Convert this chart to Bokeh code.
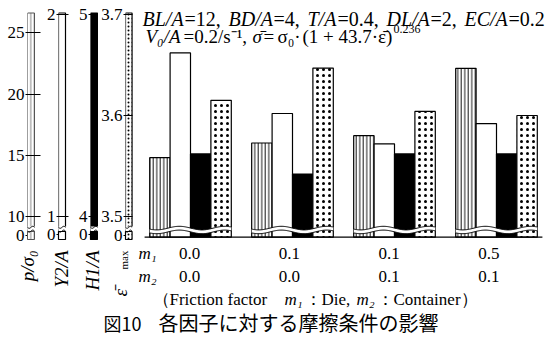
import numpy as np
from bokeh.plotting import figure
from bokeh.models import Range1d, LinearAxis, FixedTicker
from bokeh.layouts import row, column
from bokeh.core.properties import value
from bokeh.embed import file_html
from bokeh.resources import INLINE

# ---------------- data ----------------
m1_labels = ["0.0", "0.1", "0.1", "0.5"]          # die friction factor
m2_labels = ["0.0", "0.0", "0.1", "0.1"]          # container friction factor
p_sigma0 = [14.8, 16.0, 16.6, 22.1]               # p/sigma0
y2_over_a = [1.81, 1.51, 1.36, 1.46]              # Y2/A
h1_over_a = [4.31, 4.21, 4.31, 4.31]              # H1/A
eps_max = [3.615, 3.647, 3.604, 3.600]            # eps_bar max

p_ticks = [10, 15, 20, 25]
p_tick_labels = ["10", "15", "20", "25"]
y2_ticks = [1, 2]
y2_tick_labels = ["1", "2"]
h1_ticks = [4, 5]
h1_tick_labels = ["4", "5"]
eps_ticks = [3.5, 3.6, 3.7]
eps_tick_labels = ["3.5", "3.6", "3.7"]

header1 = [("BL/A", True), ("=12,", False), ("BD/A", True), ("=4,", False),
           ("T/A", True), ("=0.4,", False), ("DL/A", True), ("=2,", False),
           ("EC/A", True), ("=0.2", False)]
header2 = [("V\u2080/A", True), ("=0.2/s\u207b\u00b9,", False), ("\u03c3\u0304", True),
           ("=", False), ("\u03c3\u2080\u00b7", False), ("(1 + 43.7\u00b7\u03b5\u0304)", False)]
header2_exp = "0.236"
friction_parts = [("\uff08Friction factor", False), ("m\u2081", True), ("\uff1aDie,", False),
                  ("m\u2082", True), ("\uff1aContainer\uff09", False)]
caption_fig = "\u56f310"
caption_text = "\u5404\u56e0\u5b50\u306b\u5bfe\u3059\u308b\u6469\u64e6\u6761\u4ef6\u306e\u5f71\u97ff"

# ---------------- layout helpers ----------------
W, H = 549, 337
TOP_H = 244
BOT_H = H - TOP_H
SERIF = value("Liberation Serif")

SPEC_P = (10, 216.0, 25, 32.3)
SPEC_Y2 = (1, 216.0, 2, 14.0)
SPEC_H1 = (4, 216.0, 5, 14.0)
SPEC_EPS = (3.5, 216.0, 3.7, 14.0)


def v_at(spec, py):
    v0, p0, v1, p1 = spec
    return v0 + (p0 - py) * (v1 - v0) / (p0 - p1)


def yrange(spec):
    return Range1d(v_at(spec, TOP_H), v_at(spec, 0))


def base_fig(w, h, **kw):
    f = figure(width=w, height=h, x_axis_type=None, y_axis_type=None,
               toolbar_location=None, output_backend="svg", min_border=0,
               outline_line_color=None, background_fill_color="white",
               border_fill_color="white", **kw)
    return f


def axis_fig(fig_w, border, spec, ticks, labels, bar_kw, tick_in):
    fw = fig_w - border
    f = base_fig(fig_w, TOP_H, x_range=Range1d(0, fw), y_range=yrange(spec),
                 min_border_left=border)
    zero = round(v_at(spec, 234.5), 5)
    overrides = {float(t): l for t, l in zip(ticks, labels)}
    overrides[zero] = "0"
    ax = LinearAxis(ticker=FixedTicker(ticks=[float(t) for t in ticks] + [zero]),
                    major_label_overrides=overrides)
    ax.axis_line_color = None
    ax.major_tick_line_color = "black"
    ax.major_tick_line_width = 1
    ax.major_tick_in = tick_in
    ax.major_tick_out = 2
    ax.minor_tick_line_color = None
    ax.major_label_standoff = 1
    ax.major_label_text_font = "Liberation Serif"
    ax.major_label_text_font_size = "17px"
    ax.major_label_text_color = "black"
    f.add_layout(ax, "left")
    bw = 7
    f.quad(left=0, right=bw, bottom=v_at(spec, 239.0), top=v_at(spec, 12.5), **bar_kw)
    # cover the tick at the broken bottom, redraw the stub and the break
    f.quad(left=0, right=fw, bottom=v_at(spec, 244), top=v_at(spec, 226.0),
           fill_color="white", line_color=None, level="overlay")
    f.quad(left=0, right=bw, bottom=v_at(spec, 239.0), top=v_at(spec, 231.0),
           level="overlay", **bar_kw)
    xs = np.linspace(0, bw, 15)
    for off in (226.8, 230.6):
        ys = [v_at(spec, off + 1.0 * np.sin(2 * np.pi * x / bw)) for x in xs]
        f.line(xs, ys, line_color="black", line_width=1, level="overlay")
    return f


P_KW = dict(fill_color="white", line_color="black", line_width=1.2,
            hatch_pattern="|", hatch_color="black", hatch_scale=3.5, hatch_weight=0.9)
Y2_KW = dict(fill_color="white", line_color="black", line_width=1.2)
H1_KW = dict(fill_color="black", line_color="black", line_width=1.2)
EPS_KW = dict(fill_color="white", line_color="black", line_width=1.2,
              hatch_pattern=".", hatch_color="black", hatch_scale=6, hatch_weight=2)

fp = axis_fig(42, 27, SPEC_P, p_ticks, p_tick_labels,
              dict(P_KW, hatch_color="#777777", line_color="#555555", line_width=1), 13)
fy = axis_fig(32, 16, SPEC_Y2, y2_ticks, y2_tick_labels, Y2_KW, 10)
fh = axis_fig(24, 16, SPEC_H1, h1_ticks, h1_tick_labels, H1_KW, 10)
fe = axis_fig(42, 26, SPEC_EPS, eps_ticks, eps_tick_labels,
              dict(EPS_KW, hatch_scale=4, hatch_weight=1.5), 7)

# ---------------- main bar figure ----------------
MAIN_W = W - 140
GPX = 102.0
main = base_fig(MAIN_W, TOP_H, x_range=Range1d(-50 / GPX, (MAIN_W - 50) / GPX),
                y_range=yrange(SPEC_P))
main.extra_y_ranges = {"y2": yrange(SPEC_Y2), "h1": yrange(SPEC_H1),
                       "eps": yrange(SPEC_EPS), "px": Range1d(TOP_H, 0)}
main.extra_x_ranges = {"px": Range1d(140, W)}

n = len(m1_labels)
BAR_W = 0.2
series = [(p_sigma0, SPEC_P, "default", P_KW),
          (y2_over_a, SPEC_Y2, "y2", Y2_KW),
          (h1_over_a, SPEC_H1, "h1", H1_KW),
          (eps_max, SPEC_EPS, "eps", EPS_KW)]
for j, (vals, spec, rname, kw) in enumerate(series):
    xs = [g + (j - 1.5) * BAR_W for g in range(n)]
    main.vbar(x=xs, top=vals, bottom=v_at(spec, 236.7), width=BAR_W,
              y_range_name=rname, **kw)

# wavy breaks
for g in range(n):
    xs = np.linspace(g - 2 * BAR_W, g + 2 * BAR_W, 90)
    t = (xs - xs[0]) / (xs[-1] - xs[0])
    ytop = 227.6 + 1.8 * np.sin(2 * np.pi * t * 1.8 + 0.6)
    ybot = ytop + 3.8
    main.patch(np.concatenate([xs, xs[::-1]]), np.concatenate([ytop, ybot[::-1]]),
               fill_color="white", line_color=None, y_range_name="px")
    main.line(xs, ytop, line_color="black", line_width=1, y_range_name="px")
    main.line(xs, ybot, line_color="black", line_width=1, y_range_name="px")

main.line(x=[-0.45, n - 1 + 0.45], y=[236.7, 236.7], line_color="black",
          line_width=1.2, y_range_name="px")

# header text
h1_x = [142, 184, 228, 273, 307, 337, 386, 430, 464, 508]
for (txt, it), x in zip(header1, h1_x):
    main.text(x=[x], y=[18.5], text=[txt], x_range_name="px", y_range_name="px",
              text_font=SERIF, text_font_style="italic" if it else "normal",
              text_font_size="20px", text_baseline="middle", text_align="left",
              text_color="black")
h2_x = [145, 183, 252, 263, 277, 302]
for (txt, it), x in zip(header2, h2_x):
    main.text(x=[x], y=[36], text=[txt], x_range_name="px", y_range_name="px",
              text_font=SERIF, text_font_style="italic" if it else "normal",
              text_font_size="19px", text_baseline="middle", text_align="left",
              text_color="black")
main.text(x=[393], y=[28], text=[header2_exp], x_range_name="px", y_range_name="px",
          text_font=SERIF, text_font_size="12px", text_baseline="middle",
          text_align="left", text_color="black")

# ---------------- bottom text figure ----------------
bot = base_fig(W, BOT_H, x_range=Range1d(0, W), y_range=Range1d(H, TOP_H))
bot.extra_x_ranges = {"grp": Range1d(-189 / 99.8, (W - 189) / 99.8)}

rot = [("p/\u03c3\u2080", 27), ("Y2/A", 61), ("H1/A", 91.5)]
for txt, x in rot:
    bot.text(x=[x], y=[250], text=[txt], angle=np.pi / 2, text_align="right",
             text_baseline="middle", text_font=SERIF, text_font_style="italic",
             text_font_size="19px", text_color="black")
bot.text(x=[120], y=[296], text=["\u03b5\u0304"], angle=np.pi / 2, text_align="left",
         text_baseline="middle", text_font=SERIF, text_font_style="italic",
         text_font_size="19px", text_color="black")
bot.text(x=[123], y=[250], text=["max"], angle=np.pi / 2, text_align="right",
         text_baseline="middle", text_font=SERIF, text_font_size="11px",
         text_color="black")

bot.text(x=[138, 138], y=[253, 276], text=["m\u2081", "m\u2082"], text_font=SERIF,
         text_font_style="italic", text_font_size="17px", text_baseline="middle",
         text_align="left", text_color="black")
bot.text(x=list(range(n)), y=[253] * n, text=m1_labels, x_range_name="grp",
         text_font=SERIF, text_font_size="17px", text_baseline="middle",
         text_align="center", text_color="black")
bot.text(x=list(range(n)), y=[276] * n, text=m2_labels, x_range_name="grp",
         text_font=SERIF, text_font_size="17px", text_baseline="middle",
         text_align="center", text_color="black")

fr_x = [152, 284, 304, 356, 376]
for (txt, it), x in zip(friction_parts, fr_x):
    bot.text(x=[x], y=[299], text=[txt], text_font=SERIF,
             text_font_style="italic" if it else "normal", text_font_size="17px",
             text_baseline="middle", text_align="left", text_color="black")

bot.text(x=[103], y=[322], text=[caption_fig], text_font=value("Noto Sans CJK JP"),
         text_font_size="18px", text_baseline="middle", text_align="left",
         text_color="black")
bot.text(x=[158], y=[322], text=[caption_text], text_font=value("Noto Sans CJK JP"),
         text_font_size="20px", text_baseline="middle", text_align="left",
         text_color="black")

layout = column(row(fp, fy, fh, fe, main), bot)
open("out.html", "w").write(file_html(layout, INLINE, title="Fig10"))
